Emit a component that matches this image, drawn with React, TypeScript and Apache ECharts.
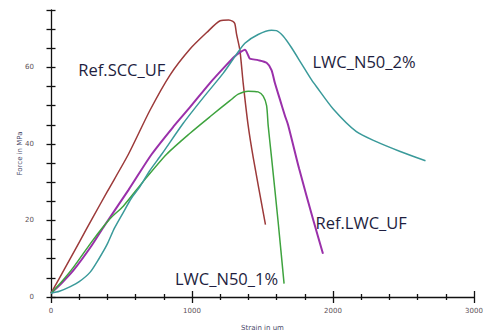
import React, { useEffect, useRef } from "react";
import * as echarts from "echarts";

// Strain (um) / Force (MPa) pairs
const refSccUf: number[][] = [
  [0, 1], [100, 7.6], [200, 14.3], [300, 21], [400, 27.6], [549, 37.3], [702, 48.8],
  [844, 58], [986, 64.8], [1104, 69.1], [1200, 72.2], [1260, 72.4], [1290, 72],
  [1304, 71.4], [1316, 68.7], [1340, 64.4], [1363, 55.9], [1398, 44.9], [1434, 36.5],
  [1521, 18.9],
];
const refLwcUf: number[][] = [
  [0, 1], [80, 3.8], [160, 7], [280, 13], [380, 18.7], [550, 28], [714, 37.3],
  [868, 44.5], [986, 49.6], [1127, 55.9], [1233, 60.2], [1300, 62.8], [1340, 63.9],
  [1375, 64.6], [1398, 63.2], [1410, 62.3], [1469, 61.9], [1529, 61.2], [1564, 59.3],
  [1588, 55.9], [1623, 51.7], [1658, 47.5], [1682, 44.9], [1760, 33.5], [1858, 20.4],
  [1929, 11.3],
];
const lwcN50_1: number[][] = [
  [0, 1], [80, 4.2], [160, 7.8], [300, 15], [420, 20.5], [514, 23.8], [650, 30],
  [820, 37.3], [986, 42.8], [1127, 47.1], [1269, 51.3], [1328, 53], [1398, 53.8],
  [1469, 53.6], [1505, 52.5], [1529, 50], [1540, 44.9], [1564, 36.5], [1611, 19.6],
  [1653, 3.5],
];
const lwcN50_2: number[][] = [
  [0, 1], [60, 1.5], [137, 2.7], [200, 4], [278, 6.5], [340, 10], [396, 13.6],
  [450, 18], [514, 22.2], [570, 25.8], [632, 28.9], [700, 33], [785, 37.3],
  [938, 45.4], [1080, 52.1], [1222, 58.5], [1304, 62.8], [1375, 66.3], [1469, 68.6],
  [1564, 69.7], [1599, 69.6], [1646, 68.2], [1705, 65.2], [1776, 61], [1847, 56.8],
  [1882, 55], [2000, 49.2], [2166, 43.2], [2307, 40.6], [2472, 38.1], [2656, 35.6],
];

const xTickLabels = [0, 1000, 2000, 3000];
const yTickLabels = [0, 20, 40, 60];
const xMajorStep = 1000;
const xMinorSplit = 5;
const yMinorStep = 5;
const xName = "Strain in um";
const yName = "Force in MPa";

const seriesNames = ["Ref.SCC_UF", "Ref.LWC_UF", "LWC_N50_1%", "LWC_N50_2%"];
const seriesColors = ["#9c3a3a", "#9a30aa", "#3ea33e", "#3a9a9a"];
const seriesWidths = [1.5, 2, 1.5, 1.5];
const seriesData = [refSccUf, refLwcUf, lwcN50_1, lwcN50_2];

export default function App() {
  const ref = useRef<HTMLDivElement>(null);
  useEffect(() => {
    if (!ref.current) return;
    const chart = echarts.init(ref.current, undefined, { renderer: "svg" });
    const axisBlack = { color: "#111", width: 1.3 };
    const baseX = {
      gridIndex: 0, type: "value", position: "bottom", offset: 0, min: 0, max: 3000,
      interval: xMajorStep, splitLine: { show: false },
    };
    const baseY = {
      gridIndex: 0, type: "value", position: "left", offset: 0, min: 0, max: 75,
      interval: yMinorStep, splitLine: { show: false },
    };
    const labelFont = { fontFamily: "Open Sans", fontSize: 16.5, fill: "#1e1e40" };
    const tickFont = { fontFamily: "DejaVu Sans", fontSize: 7, fill: "#5c5058" };
    chart.setOption({
      animation: false,
      backgroundColor: "#fff",
      grid: { left: 51, right: 9, top: 10, bottom: 29 },
      xAxis: [
        {
          ...baseX,
          axisLine: { show: true, lineStyle: axisBlack },
          axisTick: { show: true, inside: false, length: 6, lineStyle: axisBlack },
          minorTick: { show: true, splitNumber: xMinorSplit, length: 3, lineStyle: axisBlack },
          axisLabel: { show: false },
          name: xName, nameLocation: "middle", nameGap: 27,
          nameTextStyle: { fontFamily: "DejaVu Sans", fontSize: 7, color: "#4a4a6a", verticalAlign: "top" },
        },
        {
          ...baseX,
          axisLine: { show: false },
          axisTick: { show: true, inside: true, length: 6, lineStyle: axisBlack },
          minorTick: { show: true, splitNumber: xMinorSplit, length: 3, lineStyle: axisBlack },
          axisLabel: { show: false },
        },
      ],
      yAxis: [
        {
          ...baseY,
          axisLine: { show: true, lineStyle: axisBlack },
          axisTick: { show: true, inside: false, length: 4.5, lineStyle: axisBlack },
          axisLabel: { show: false },
          name: yName, nameLocation: "middle", nameGap: 28,
          nameTextStyle: { fontFamily: "DejaVu Sans", fontSize: 7, color: "#4a4a6a" },
        },
        {
          ...baseY,
          axisLine: { show: false },
          axisTick: { show: true, inside: true, length: 4.5, lineStyle: axisBlack },
          axisLabel: { show: false },
        },
      ],
      series: seriesData.map((d, i) => ({
        name: seriesNames[i],
        type: "line",
        data: d,
        xAxisIndex: 0,
        yAxisIndex: 0,
        showSymbol: false,
        smooth: 0.25,
        lineStyle: { color: seriesColors[i], width: seriesWidths[i] },
        z: 3,
      })),
    });

    // Tick labels placed through the axes' own scales
    const xAxisPx = chart.convertToPixel({ xAxisIndex: 0 }, 0) as number;
    const yAxisPx = chart.convertToPixel({ yAxisIndex: 0 }, 0) as number;
    const tickTexts: any[] = [];
    xTickLabels.forEach((v) => {
      const px = chart.convertToPixel({ xAxisIndex: 0 }, v) as number;
      tickTexts.push({
        type: "text", x: px, y: yAxisPx + 10,
        style: { text: String(v), ...tickFont, align: "center", verticalAlign: "top" },
      });
    });
    yTickLabels.forEach((v) => {
      const py = chart.convertToPixel({ yAxisIndex: 0 }, v) as number;
      tickTexts.push({
        type: "text", x: xAxisPx - 17, y: py,
        style: { text: String(v), ...tickFont, align: "right", verticalAlign: "middle" },
      });
    });

    chart.setOption({
      graphic: [
        { type: "text", x: 78.3, y: 69, style: { text: seriesNames[0], ...labelFont, verticalAlign: "middle" } },
        { type: "text", x: 315.5, y: 222, style: { text: seriesNames[1], ...labelFont, verticalAlign: "middle" } },
        { type: "text", x: 175, y: 278, style: { text: seriesNames[2], ...labelFont, verticalAlign: "middle" } },
        { type: "text", x: 312.5, y: 61, style: { text: seriesNames[3], ...labelFont, verticalAlign: "middle" } },
        ...tickTexts,
      ],
    });
    return () => chart.dispose();
  }, []);
  return (
    <div
      ref={ref}
      style={{ position: "fixed", left: 0, top: 0, width: 483, height: 336, background: "#fff" }}
    />
  );
}
